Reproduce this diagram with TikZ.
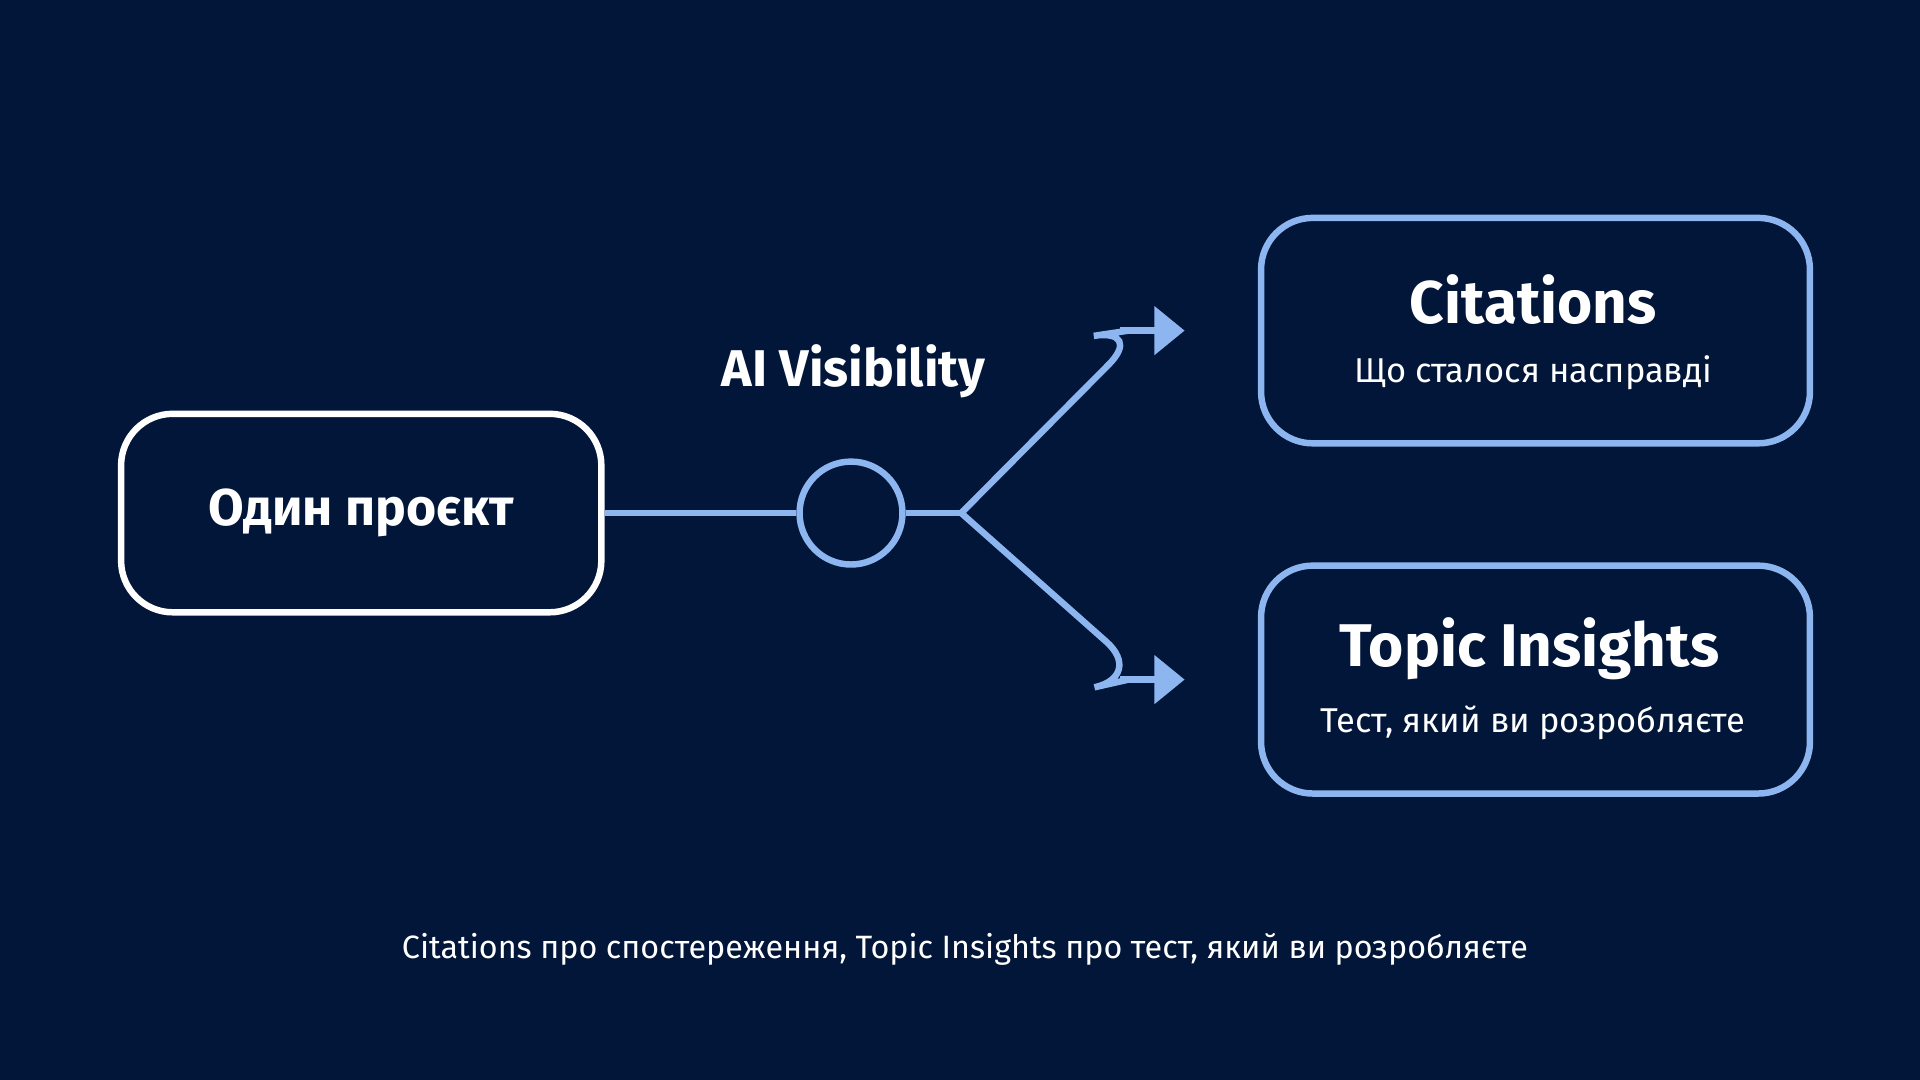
\documentclass[tikz,border=0pt]{standalone}
\usepackage{fontspec}
\setmainfont{Fira Sans}
\usetikzlibrary{arrows.meta,positioning}
\definecolor{bgnavy}{HTML}{02163A}
\definecolor{skyline}{HTML}{8DB6F0}
\tikzset{
  box/.style={draw,rounded corners=12pt,line width=1.5pt,minimum height=#1},
  link/.style={skyline,line width=1.5pt},
}
\begin{document}
\begin{tikzpicture}[x=0.01cm,y=-0.01cm,text=white]
    \fill[bgnavy] (0,0) rectangle (1568,882);
    \useasboundingbox (0,0) rectangle (1568,882);

    % source box and hub
    \node[box=1.62cm,draw=white,minimum width=3.92cm] (project) at (295,419) {};
    \node[font=\fontsize{12}{14}\selectfont\bfseries] at (project) {Один проєкт};
    \node[draw=skyline,circle,line width=1.5pt,minimum size=0.84cm] (hub) at (695,419) {};
    \node[font=\fontsize{12}{14}\selectfont\bfseries] (label) at (697,303) {AI Visibility};

    % target boxes
    \node[box=1.84cm,draw=skyline,minimum width=4.48cm] (cites) at (1254,270) {};
    \node[font=\fontsize{14}{17}\selectfont\bfseries] at (1252,245) {Citations};
    \node[font=\fontsize{8}{10}\selectfont] at (1252,304) {Що сталося насправді};

    \node[box=1.86cm,draw=skyline,minimum width=4.48cm] (topics) at (1254,555) {};
    \node[font=\fontsize{14}{17}\selectfont\bfseries] at (1249,530) {Topic Insights};
    \node[font=\fontsize{8}{10}\selectfont] at (1252,590) {Тест, який ви розробляєте};

    % connectors
    \draw[link] (project.east) -- (hub.west);
    \coordinate (fork) at (785,419);
    \coordinate (upbend) at (935,268);
    \coordinate (downbend) at (935,552);
    \draw[link] (hub.east) -- (fork);
    \draw[link,rounded corners=12pt] (fork) -- (upbend) -- ([xshift=-30]cites.west);
    \draw[link,rounded corners=12pt] (fork) -- (downbend) -- ([xshift=-30]topics.west);
    \draw[link,-{Triangle[length=7pt,width=11pt]}] ([xshift=-32]cites.west) -- ([xshift=-17]cites.west);
    \draw[link,-{Triangle[length=7pt,width=11pt]}] ([xshift=-32]topics.west) -- ([xshift=-17]topics.west);

    \node[font=\fontsize{7.5}{9}\selectfont] at (788,775) {Citations про спостереження, Topic Insights про тест, який ви розробляєте};
\end{tikzpicture}
\end{document}
